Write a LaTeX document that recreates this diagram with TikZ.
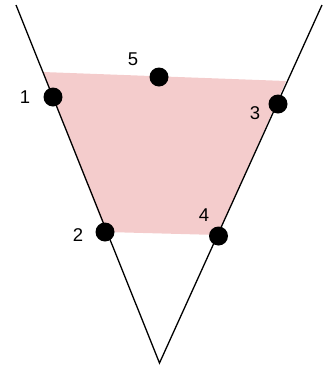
\documentclass[tikz,border=0pt]{standalone}
\usepackage{fontspec}
\setmainfont{Liberation Sans}
\definecolor{pinkfill}{HTML}{F4CCCC}
\begin{document}
\begin{tikzpicture}[x=1pt,y=-1pt,
  dot/.style={circle,fill=black,inner sep=0pt,minimum size=19pt},
  lbl/.style={font=\fontsize{18.5}{22}\selectfont,inner sep=0pt},
  edge/.style={draw=black,line width=1.3pt}]
\useasboundingbox (0,0) rectangle (323,370);
% fill region
\fill[pinkfill] (43,72) -- (286,81) -- (218,235) -- (106,232) -- cycle;
% V lines
\coordinate (tl) at (16,5);
\coordinate (tr) at (322,5);
\coordinate (apex) at (159.5,363);
\draw[edge,line join=miter] (tl) -- (apex) -- (tr);
% dots
\node[dot] (d1) at (53,97) {};
\node[dot] (d2) at (105,232) {};
\node[dot] (d3) at (278,104) {};
\node[dot] (d4) at (218.5,236) {};
\node[dot] (d5) at (159,77) {};
% labels
\node[lbl] (l1) at (25,97) {1};
\node[lbl] (l2) at (78,235) {2};
\node[lbl] (l3) at (255,113) {3};
\node[lbl] (l4) at (204,215) {4};
\node[lbl] (l5) at (133,59) {5};
\end{tikzpicture}
\end{document}
